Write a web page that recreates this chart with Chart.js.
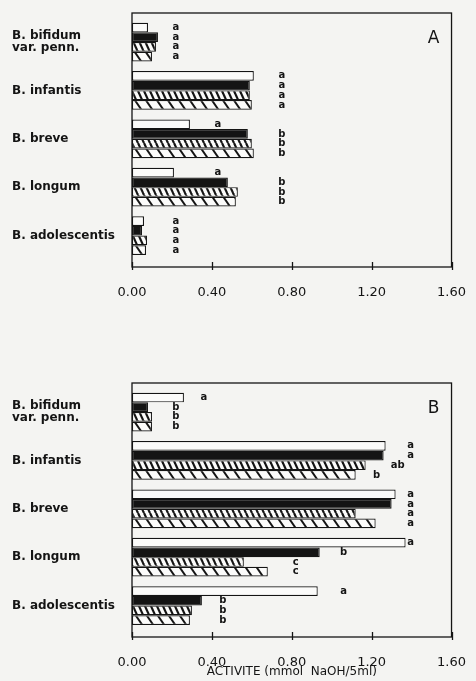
<!DOCTYPE html>
<html>
<head>
<meta charset="utf-8">
<script src="https://cdn.jsdelivr.net/npm/chart.js@4.4.1/dist/chart.umd.min.js"></script>
<style>
  html, body { margin: 0; padding: 0; background: #f4f4f2; }
  body { width: 476px; height: 681px; position: relative; overflow: hidden; }
  canvas { position: absolute; left: 0; }
  #chartA { top: 0; }
  #chartB { top: 370px; }
</style>
</head>
<body>
<canvas id="chartA" width="476" height="300"></canvas>
<canvas id="chartB" width="476" height="311"></canvas>
<script>
const categories = [["B. bifidum", "var. penn."], "B. infantis", "B. breve", "B. longum", "B. adolescentis"];
const seriesNames = ["serie 1", "serie 2", "serie 3", "serie 4"];
const xTicks = [0, 0.4, 0.8, 1.2, 1.6];

// panel A
const aWhite = [0.08, 0.61, 0.29, 0.21, 0.06];
const aBlack = [0.13, 0.59, 0.58, 0.48, 0.05];
const aHatchDense = [0.12, 0.59, 0.60, 0.53, 0.075];
const aHatchWide = [0.10, 0.60, 0.61, 0.52, 0.07];
const aLetters = [
  ["a", "a", "a", "a"],
  ["a", "a", "a", "a"],
  ["a", "b", "b", "b"],
  ["a", "b", "b", "b"],
  ["a", "a", "a", "a"],
];
// where the letter sits, in axis units
const aLetterX = [
  [0.22, 0.22, 0.22, 0.22],
  [0.75, 0.75, 0.75, 0.75],
  [0.43, 0.75, 0.75, 0.75],
  [0.43, 0.75, 0.75, 0.75],
  [0.22, 0.22, 0.22, 0.22],
];

// panel B
const bWhite = [0.26, 1.27, 1.32, 1.37, 0.93];
const bBlack = [0.08, 1.26, 1.30, 0.94, 0.35];
const bHatchDense = [0.10, 1.17, 1.12, 0.56, 0.30];
const bHatchWide = [0.10, 1.12, 1.22, 0.68, 0.29];
const bLetters = [
  ["a", "b", "b", "b"],
  ["a", "a", "ab", "b"],
  ["a", "a", "a", "a"],
  ["a", "b", "c", "c"],
  ["a", "b", "b", "b"],
];
const bLetterX = [
  [0.36, 0.22, 0.22, 0.22],
  [1.395, 1.395, 1.33, 1.225],
  [1.395, 1.395, 1.395, 1.395],
  [1.395, 1.06, 0.82, 0.82],
  [1.06, 0.455, 0.455, 0.455],
];
const xTitle = "ACTIVITE (mmol  NaOH/5ml)";

const INK = "#141414";
const PAPER = "#fbfbfa";

const makeHatch = (spacing, height, lineWidth) => {
  const c = document.createElement("canvas");
  c.width = spacing;
  c.height = height;
  const g = c.getContext("2d");
  g.fillStyle = PAPER;
  g.fillRect(0, 0, spacing, height);
  g.strokeStyle = INK;
  g.lineWidth = lineWidth;
  for (const off of [-spacing, 0, spacing]) {
    g.beginPath();
    g.moveTo(off, 0);
    g.lineTo(off + spacing, height);
    g.stroke();
  }
  return g.createPattern(c, "repeat");
};

const framePlugin = (panelName, letters, letterX) => ({
  id: "frame",
  afterDatasetsDraw(chart) {
    const ctx = chart.ctx;
    const xs = chart.scales.x;
    ctx.save();
    ctx.fillStyle = INK;
    ctx.font = "bold 10px 'DejaVu Sans'";
    ctx.textAlign = "center";
    ctx.textBaseline = "middle";
    chart.data.datasets.forEach((ds, i) => {
      const meta = chart.getDatasetMeta(i);
      meta.data.forEach((bar, j) => {
        const txt = letters[j][i];
        if (!txt) return;
        ctx.fillText(txt, xs.getPixelForValue(letterX[j][i]), bar.y);
      });
    });
    ctx.restore();
  },
  afterDraw(chart) {
    const { ctx, chartArea } = chart;
    const { left, top, right, bottom } = chartArea;
    const xs = chart.scales.x;
    ctx.save();
    ctx.strokeStyle = INK;
    ctx.lineWidth = 1.3;
    ctx.strokeRect(left, top, right - left, bottom - top);
    xTicks.forEach((v) => {
      const px = Math.round(xs.getPixelForValue(v)) + 0.5;
      ctx.beginPath();
      ctx.moveTo(px, bottom - 5);
      ctx.lineTo(px, bottom + 3);
      ctx.stroke();
    });
    ctx.fillStyle = INK;
    ctx.font = "17px 'DejaVu Sans'";
    ctx.textAlign = "center";
    ctx.textBaseline = "middle";
    ctx.fillText(panelName, right - 18, top + 26);
    ctx.restore();
  },
});

const buildPanel = (id, series, letters, letterX, panelName, title, axisHeight) => {
  const ctx = document.getElementById(id).getContext("2d");
  const fills = [PAPER, INK, makeHatch(6, 13, 2.2), makeHatch(11, 16, 2)];

  return new Chart(ctx, {
    type: "bar",
    data: {
      datasets: series.map((values, i) => ({
        label: seriesNames[i],
        data: values.map((v, j) => ({ x: v, y: j })),
        backgroundColor: fills[i],
        borderColor: INK,
        borderWidth: 1.2,
        borderSkipped: false,
        categoryPercentage: 0.8,
        barPercentage: 1,
      })),
    },
    options: {
      indexAxis: "y",
      responsive: false,
      animation: false,
      devicePixelRatio: 1,
      layout: { padding: { left: 12, right: 16, top: 13, bottom: 0 } },
      plugins: {
        legend: { display: false },
        tooltip: { enabled: false },
      },
      scales: {
        x: {
          type: "linear",
          min: 0,
          max: 1.6,
          afterBuildTicks: (s) => {
            s.ticks = xTicks.map((v) => ({ value: v }));
          },
          afterFit: (s) => {
            s.height = axisHeight;
          },
          grid: { display: false },
          border: { display: false },
          ticks: {
            callback: (v) => Number(v).toFixed(2),
            color: INK,
            font: { family: "'DejaVu Sans'", size: 13 },
            padding: 10,
            maxRotation: 0,
          },
          title: {
            display: !!title,
            text: title,
            color: INK,
            font: { family: "'DejaVu Sans'", size: 12 },
            padding: { top: 0, bottom: 2 },
          },
        },
        y: {
          type: "linear",
          offset: false,
          min: -0.6,
          max: 4.65,
          reverse: true,
          afterBuildTicks: (s) => {
            s.ticks = categories.map((_, i) => ({ value: i }));
          },
          afterFit: (s) => {
            s.width = 120;
          },
          grid: { display: false, offset: false },
          border: { display: false },
          ticks: {
            callback: (v) => categories[v],
            crossAlign: "far",
            color: INK,
            font: { family: "'DejaVu Sans'", size: 12, weight: "bold", lineHeight: 1.0 },
          },
        },
      },
    },
    plugins: [framePlugin(panelName, letters, letterX)],
  });
};

buildPanel("chartA", [aWhite, aBlack, aHatchDense, aHatchWide], aLetters, aLetterX, "A", "", 33);
buildPanel("chartB", [bWhite, bBlack, bHatchDense, bHatchWide], bLetters, bLetterX, "B", xTitle, 44);
</script>
</body>
</html>
